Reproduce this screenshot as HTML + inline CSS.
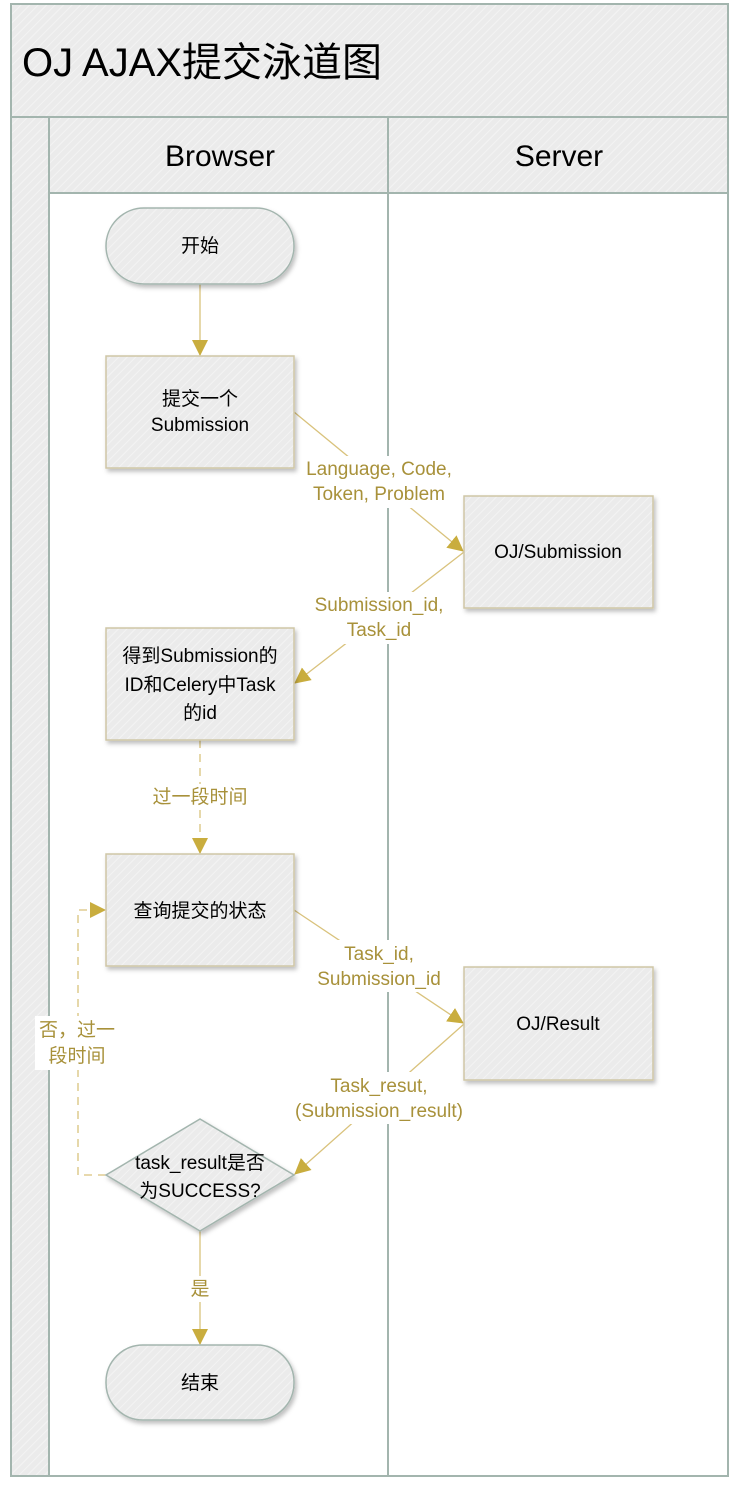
<!DOCTYPE html>
<html><head><meta charset="utf-8"><style>
html,body{margin:0;padding:0;background:#fff;}
svg{display:block;}
text{font-family:"Liberation Sans","Noto Sans CJK SC",sans-serif;}
</style></head><body>
<svg width="738" height="1492" viewBox="0 0 738 1492" xmlns="http://www.w3.org/2000/svg">
<defs>
<pattern id="h" width="6" height="6" patternUnits="userSpaceOnUse" patternTransform="rotate(45)">
<rect width="6" height="6" fill="#ebebeb"/><line x1="0" y1="0" x2="0" y2="6" stroke="#f3f3f3" stroke-width="2"/>
</pattern>
<filter id="sh" x="-10%" y="-10%" width="130%" height="130%"><feDropShadow dx="2" dy="3" stdDeviation="2" flood-color="#000" flood-opacity="0.25"/></filter>
<marker id="ar" markerWidth="16" markerHeight="16" refX="15" refY="8" orient="auto" markerUnits="userSpaceOnUse"><path d="M0,0 L16,8 L0,16 z" fill="#c9ad3e"/></marker>
</defs>
<rect x="11" y="4" width="717" height="1472" fill="#fff" stroke="#a3b5ae" stroke-width="2"/>
<rect x="11" y="4" width="717" height="113" fill="url(#h)" stroke="#a3b5ae" stroke-width="2"/>
<rect x="11" y="117" width="38" height="1359" fill="url(#h)" stroke="#a3b5ae" stroke-width="2"/>
<rect x="49" y="117" width="339" height="76" fill="url(#h)" stroke="#a3b5ae" stroke-width="2"/>
<rect x="388" y="117" width="340" height="76" fill="url(#h)" stroke="#a3b5ae" stroke-width="2"/>
<line x1="388" y1="193" x2="388" y2="1476" stroke="#a3b5ae" stroke-width="2"/>
<text x="22" y="76" font-size="40">OJ AJAX提交泳道图</text>
<text x="220" y="166" font-size="30" text-anchor="middle">Browser</text>
<text x="559" y="166" font-size="30" text-anchor="middle">Server</text>

<g stroke="#d9c27c" stroke-width="1.3" fill="none">
<line x1="200" y1="284" x2="200" y2="355" marker-end="url(#ar)"/>
<line x1="294" y1="412" x2="463" y2="551" marker-end="url(#ar)"/>
<line x1="464" y1="552" x2="295" y2="683" marker-end="url(#ar)"/>
<line x1="200" y1="740" x2="200" y2="853" stroke-dasharray="8,6" marker-end="url(#ar)"/>
<line x1="294" y1="910" x2="463" y2="1023" marker-end="url(#ar)"/>
<line x1="464" y1="1024" x2="295" y2="1174" marker-end="url(#ar)"/>
<polyline points="106,1175 78,1175 78,910 105,910" stroke-dasharray="8,6" marker-end="url(#ar)"/>
<line x1="200" y1="1231" x2="200" y2="1344" marker-end="url(#ar)"/>
</g>
<g font-size="19" fill="#a8913a" text-anchor="middle">
<rect x="298" y="456" width="162" height="52" fill="#fff"/>
<text x="379" y="475">Language, Code,</text><text x="379" y="500">Token, Problem</text>
<rect x="306" y="592" width="146" height="52" fill="#fff"/>
<text x="379" y="611">Submission_id,</text><text x="379" y="636">Task_id</text>
<rect x="143" y="784" width="114" height="26" fill="#fff"/>
<text x="200" y="803">过一段时间</text>
<rect x="308" y="940" width="142" height="52" fill="#fff"/>
<text x="379" y="960">Task_id,</text><text x="379" y="985">Submission_id</text>
<rect x="286" y="1072" width="186" height="52" fill="#fff"/>
<text x="379" y="1092">Task_resut,</text><text x="379" y="1117">(Submission_result)</text>
<rect x="35" y="1016" width="86" height="54" fill="#fff"/>
<text x="77" y="1036">否，过一</text><text x="77" y="1062">段时间</text>
<rect x="186" y="1276" width="28" height="26" fill="#fff"/>
<text x="200" y="1295">是</text>
</g>

<g filter="url(#sh)">
<rect x="106" y="208" width="188" height="76" rx="38" fill="url(#h)" stroke="#a3b5ae" stroke-width="1.5"/>
<rect x="106" y="356" width="188" height="112" fill="url(#h)" stroke="#cfc6a6" stroke-width="1.5"/>
<rect x="464" y="496" width="189" height="112" fill="url(#h)" stroke="#cfc6a6" stroke-width="1.5"/>
<rect x="106" y="628" width="188" height="112" fill="url(#h)" stroke="#cfc6a6" stroke-width="1.5"/>
<rect x="106" y="854" width="188" height="112" fill="url(#h)" stroke="#cfc6a6" stroke-width="1.5"/>
<rect x="464" y="967" width="189" height="113" fill="url(#h)" stroke="#cfc6a6" stroke-width="1.5"/>
<polygon points="200,1119 294,1175 200,1231 106,1175" fill="url(#h)" stroke="#a3b5ae" stroke-width="1.5"/>
<rect x="106" y="1345" width="188" height="75" rx="37" fill="url(#h)" stroke="#a3b5ae" stroke-width="1.5"/>
</g>
<g font-size="19" fill="#000" text-anchor="middle">
<text x="200" y="252">开始</text>
<text x="200" y="405">提交一个</text><text x="200" y="431">Submission</text>
<text x="558" y="558">OJ/Submission</text>
<text x="200" y="662">得到Submission的</text><text x="200" y="691">ID和Celery中Task</text><text x="200" y="719">的id</text>
<text x="200" y="917">查询提交的状态</text>
<text x="558" y="1030">OJ/Result</text>
<text x="200" y="1169">task_result是否</text><text x="200" y="1197">为SUCCESS?</text>
<text x="200" y="1389">结束</text>
</g>
</svg>
</body></html>
